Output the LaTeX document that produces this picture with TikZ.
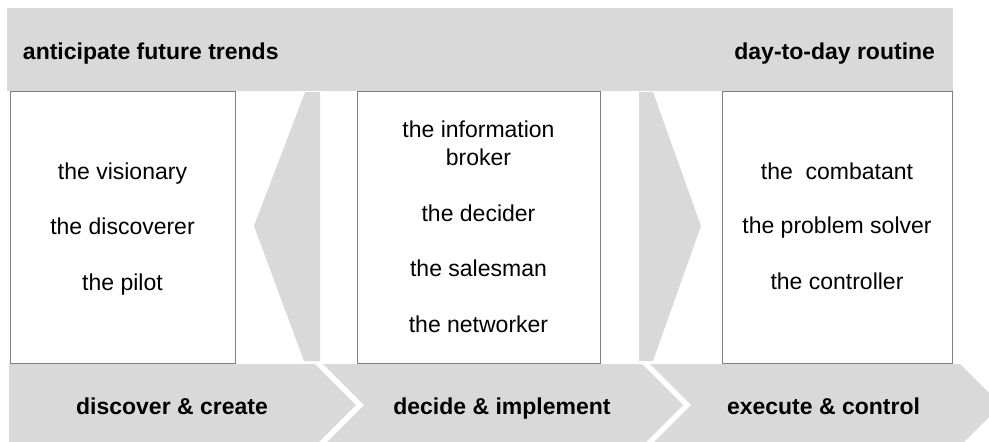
\documentclass[tikz,border=0pt]{standalone}
\usepackage{fontspec}
\setmainfont{Liberation Sans}
\definecolor{bandgray}{RGB}{217,217,217}
\definecolor{linegray}{RGB}{128,128,128}
\begin{document}
\begin{tikzpicture}[x=1pt,y=-1pt,
  every node/.style={font=\fontsize{23}{28.3}\selectfont, inner sep=0pt, outer sep=0pt},
  rolebox/.style={draw=linegray, line width=0.8pt, fill=white},
  grayshape/.style={fill=bandgray, draw=none},
  chev/.style={fill=bandgray, draw=none},
  head/.style={font=\fontsize{23}{28.3}\selectfont\bfseries, anchor=base},
  role/.style={anchor=base}]
\useasboundingbox (0,0) rectangle (989,442);
\clip (0,0) rectangle (989,442);
% role boxes
\draw[rolebox] (10,91) rectangle (235,363);
\draw[rolebox] (357,91) rectangle (600,363);
\draw[rolebox] (722,91) rectangle (952,363);
% top band
\fill[bandgray] (7,8) rectangle (953,91);
\node[head, anchor=base west] (trends) at (23,59) {anticipate future trends};
\node[head, anchor=base east] (routine) at (935,59) {day-to-day routine};
% vertical arrows
\fill[grayshape] (320,92) -- (305,92) -- (254,226) -- (304,361) -- (320,361) -- cycle;
\fill[grayshape] (639,92) -- (653,92) -- (701,226) -- (653,361) -- (639,361) -- cycle;
% left box texts
\node[role] (visionary) at (122.5,179.3) {the visionary};
\node[role] (discoverer) at (122.5,234.5) {the discoverer};
\node[role] (pilot) at (122.5,290) {the pilot};
% middle box texts
\node[role] (broker) at (478.5,137.3) {\begin{tabular}[t]{@{}c@{}}the information\\broker\end{tabular}};
\node[role] (decider) at (478.5,221) {the decider};
\node[role] (salesman) at (478.5,276.7) {the salesman};
\node[role] (networker) at (478.5,332.7) {the networker};
% right box texts
\node[role] (combatant) at (837,179.3) {the\ \ combatant};
\node[role] (solver) at (837,233.5) {the problem solver};
\node[role] (controller) at (837,289.3) {the controller};
% bottom chevrons
\fill[chev] (9,364) -- (315,364) -- (356,405) -- (315,446) -- (9,446) -- cycle;
\fill[chev] (323,364) -- (642,364) -- (683,405) -- (642,446) -- (323,446) -- (364,405) -- cycle;
\fill[chev] (650,364) -- (960,364) -- (1001,405) -- (960,446) -- (650,446) -- (691,405) -- cycle;
\node[head] (discover) at (172,414) {discover \& create};
\node[head] (decide) at (502,414) {decide \& implement};
\node[head] (execute) at (823.5,414) {execute \& control};
\end{tikzpicture}
\end{document}
